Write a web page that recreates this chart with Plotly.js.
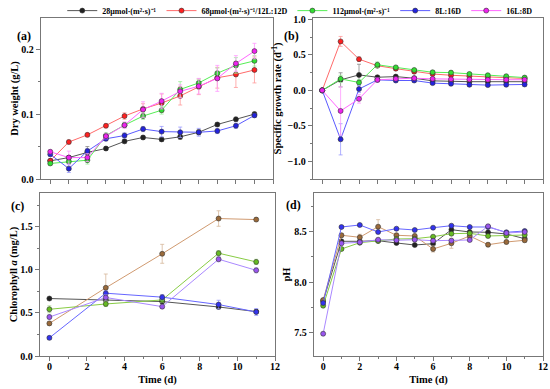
<!DOCTYPE html>
<html><head><meta charset="utf-8">
<script src="https://cdn.plot.ly/plotly-3.0.1.min.js"></script>
<style>html,body{margin:0;padding:0;background:#fff}#chart{width:550px;height:389px}</style>
</head><body><div id="chart"></div>
<script>
const seriesNames = ["28μmol·(m²·s)⁻¹", "68μmol·(m²·s)⁻¹/12L:12D", "112μmol·(m²·s)⁻¹", "8L:16D", "16L:8D"];
const daysAll = [0,1,2,3,4,5,6,7,8,9,10,11];
const daysChl = [0,3,6,9,11];
const sgTickVals = [-1.0,-0.5,0.0,0.5,1.0];
const sgTickText = ["−1.0","−0.5","0.0","0.5","1.0"];

// (a) Dry weight (g/L)
const dwBlack = [0.028,0.033,0.041,0.047,0.058,0.064,0.061,0.065,0.072,0.084,0.092,0.100];
const dwRed   = [0.028,0.057,0.068,0.082,0.097,0.108,0.117,0.128,0.142,0.156,0.161,0.168];
const dwGreen = [0.024,0.027,0.029,0.067,0.083,0.097,0.106,0.138,0.148,0.163,0.175,0.182];
const dwBlue  = [0.038,0.016,0.043,0.062,0.067,0.077,0.073,0.072,0.072,0.074,0.082,0.098];
const dwPink  = [0.042,0.033,0.033,0.066,0.083,0.107,0.120,0.135,0.143,0.155,0.178,0.197];
const dwErrBlack = [0.002,0.003,0.009,0.003,0.003,0.003,0.003,0.004,0.004,0.003,0.003,0.003];
const dwErrRed   = [0.002,0.003,0.003,0.003,0.005,0.008,0.014,0.014,0.012,0.016,0.02,0.02];
const dwErrGreen = [0.002,0.003,0.006,0.004,0.004,0.005,0.006,0.012,0.006,0.008,0.012,0.008];
const dwErrBlue  = [0.003,0.006,0.004,0.003,0.004,0.004,0.008,0.008,0.006,0.004,0.004,0.003];
const dwErrPink  = [0.003,0.01,0.006,0.004,0.005,0.012,0.012,0.01,0.012,0.02,0.012,0.012];

// (b) Specific growth rate (d-1)
const sgBlack = [0,0.148,0.218,0.185,0.194,0.171,0.134,0.125,0.122,0.122,0.122,0.122];
const sgRed   = [0,0.690,0.440,0.347,0.306,0.264,0.231,0.213,0.199,0.185,0.176,0.167];
const sgGreen = [0,0.162,0.111,0.361,0.324,0.287,0.255,0.250,0.231,0.213,0.199,0.180];
const sgBlue  = [0,-0.690,0.019,0.148,0.139,0.139,0.102,0.093,0.079,0.074,0.079,0.083];
const sgPink  = [0,-0.290,-0.120,0.148,0.162,0.171,0.162,0.157,0.153,0.150,0.150,0.150];
const sgErrBlack = [0,0.1,0.15,0.02,0.02,0.02,0.02,0.02,0.02,0.02,0.02,0.02];
const sgErrRed   = [0,0.07,0.03,0.02,0.02,0.02,0.02,0.02,0.02,0.02,0.02,0.02];
const sgErrGreen = [0,0.05,0.04,0.04,0.02,0.02,0.02,0.02,0.02,0.02,0.02,0.02];
const sgErrBlue  = [0,0.22,0.05,0.03,0.02,0.02,0.02,0.02,0.02,0.02,0.02,0.02];
const sgErrPink  = [0,0.34,0.06,0.03,0.02,0.02,0.02,0.02,0.02,0.02,0.02,0.02];

// (c) Chlorophyll a (mg/L)
const chBlack = [0.668,0.650,0.633,0.570,0.516];
const chRed   = [0.379,0.793,1.188,1.598,1.586];
const chGreen = [0.543,0.605,0.652,1.195,1.094];
const chBlue  = [0.211,0.730,0.684,0.598,0.512];
const chPink  = [0.453,0.680,0.574,1.125,0.996];
const chErrBlack = [0.01,0.02,0.02,0.02,0.02];
const chErrRed   = [0.02,0.16,0.11,0.09,0.02];
const chErrGreen = [0.04,0.03,0.03,0.03,0.03];
const chErrBlue  = [0.02,0.03,0.03,0.05,0.04];
const chErrPink  = [0.03,0.03,0.02,0.03,0.03];

// (d) pH
const phBlack = [7.81,8.407,8.407,8.413,8.390,8.370,8.383,8.523,8.500,8.497,8.480,8.433];
const phRed   = [7.82,8.467,8.447,8.553,8.467,8.460,8.330,8.387,8.460,8.373,8.400,8.417];
const phGreen = [7.763,8.330,8.393,8.410,8.430,8.433,8.453,8.483,8.487,8.460,8.463,8.470];
const phBlue  = [7.79,8.550,8.570,8.500,8.533,8.520,8.543,8.563,8.550,8.550,8.497,8.510];
const phPink  = [7.483,8.387,8.397,8.423,8.417,8.423,8.413,8.413,8.420,8.557,8.490,8.500];
const phErrRed = [0.01,0.02,0.03,0.07,0.02,0.02,0.03,0.05,0.02,0.02,0.02,0.02];

const colTop = [
  {m:'#222222', l:'#555555', e:'#888888'},
  {m:'#ff2020', l:'#ff6a6a', e:'#ff9a9a'},
  {m:'#33dd33', l:'#55ee55', e:'#99ee99'},
  {m:'#2222dd', l:'#5a5aff', e:'#9a9aff'},
  {m:'#ee22ee', l:'#ff66ff', e:'#ff99ff'}
];
const colBot = [
  {m:'#222222', l:'#555555', e:'#999999'},
  {m:'#9a6a3a', l:'#d09a70', e:'#d6b89a'},
  {m:'#66bb22', l:'#88cc44', e:'#aadd88'},
  {m:'#3333ee', l:'#6666ff', e:'#9999ff'},
  {m:'#9955ee', l:'#aa88ff', e:'#ccbbff'}
];

function tr(x, y, err, i, cols, xa, ya, legend) {
  const c = cols[i];
  const t = {
    x: x, y: y, type: 'scatter', mode: 'lines+markers',
    name: seriesNames[i], xaxis: xa, yaxis: ya, showlegend: legend,
    line: {color: c.l, width: 1},
    marker: {symbol: 'circle', size: 5, color: c.m, line: {color: '#333', width: 0.6}}
  };
  if (err) t.error_y = {type: 'data', array: err, visible: true, color: c.e, thickness: 0.8, width: 2};
  return t;
}

const data = [];
const A = [[dwBlack,dwErrBlack],[dwRed,dwErrRed],[dwGreen,dwErrGreen],[dwBlue,dwErrBlue],[dwPink,dwErrPink]];
const B = [[sgBlack,sgErrBlack],[sgRed,sgErrRed],[sgGreen,sgErrGreen],[sgBlue,sgErrBlue],[sgPink,sgErrPink]];
const C = [[chBlack,chErrBlack],[chRed,chErrRed],[chGreen,chErrGreen],[chBlue,chErrBlue],[chPink,chErrPink]];
const D = [[phBlack,null],[phRed,phErrRed],[phGreen,null],[phBlue,null],[phPink,null]];
A.forEach((s,i)=>data.push(tr(daysAll, s[0], s[1], i, colTop, 'x', 'y', true)));
B.forEach((s,i)=>data.push(tr(daysAll, s[0], s[1], i, colTop, 'x2', 'y2', false)));
C.forEach((s,i)=>data.push(tr(daysChl, s[0], s[1], i, colBot, 'x3', 'y3', false)));
D.forEach((s,i)=>data.push(tr(daysAll, s[0], s[1], i, colBot, 'x4', 'y4', false)));

const serif = '"Liberation Serif", "Times New Roman", serif';
const fnt = {family: serif, size: 10, color: '#000'};
const tickFont = {family: serif, size: 10, color: '#000', weight: 'bold'};
const titleFont = {family: serif, size: 10.5, color: '#000', weight: 'bold'};
const panelFont = {family: serif, size: 12, color: '#000', weight: 'bold'};
function ax(extra) {
  return Object.assign({
    showline: true, mirror: true, linecolor: '#777', linewidth: 1.3,
    ticks: 'outside', ticklen: 4, tickcolor: '#777', tickwidth: 1,
    showgrid: false, zeroline: false, automargin: false, ticklabeloverflow: 'allow',
    tickfont: tickFont
  }, extra);
}

const layout = {
  width: 550, height: 389,
  margin: {l: 0, r: 0, t: 0, b: 0, autoexpand: false},
  paper_bgcolor: '#fff', plot_bgcolor: '#fff',
  font: fnt,
  showlegend: true,
  legend: {orientation: 'h', x: 0.545, xanchor: 'center', y: 1.01, yanchor: 'top',
    font: {family: serif, size: 8, color: '#000', weight: 'bold'},
    itemwidth: 30, tracegroupgap: 0, bgcolor: 'rgba(0,0,0,0)'},
  xaxis:  ax({domain: [0.0745, 0.4964], anchor: 'y',  range: [-0.5, 12], tick0: 0, dtick: 1, showticklabels: false}),
  yaxis:  ax({domain: [0.5398, 0.9537], anchor: 'x',  range: [0, 0.248], dtick: 0.1, tickformat: '.1f',
              minor: {ticks: 'outside', ticklen: 2, dtick: 0.05, tickcolor: '#777'},
              title: {text: 'Dry weight (g/L)', font: titleFont, standoff: 0}}),
  xaxis2: ax({domain: [0.5691, 0.9873], anchor: 'y2', range: [-0.5, 12], tick0: 0, dtick: 1, showticklabels: false}),
  yaxis2: ax({domain: [0.5398, 0.9537], anchor: 'x2', range: [-1.25, 1.02], tickmode: 'array',
              tickvals: sgTickVals, ticktext: sgTickText,
              minor: {ticks: 'outside', ticklen: 2, dtick: 0.25, tickcolor: '#777'},
              title: {text: 'Specific growth rate (d<sup>-1</sup>)', font: titleFont, standoff: 3}}),
  xaxis3: ax({domain: [0.0727, 0.5], anchor: 'y3', range: [-0.5, 12], tick0: 0, dtick: 2, ticklabelstandoff: -3,
              minor: {ticks: 'outside', ticklen: 2, dtick: 1, tickcolor: '#777'},
              title: {text: 'Time (d)', font: titleFont, standoff: 4}}),
  yaxis3: ax({domain: [0.0848, 0.5039], anchor: 'x3', range: [0, 1.895], dtick: 0.5, tickformat: '.1f',
              minor: {ticks: 'outside', ticklen: 2, dtick: 0.25, tickcolor: '#777'},
              title: {text: 'Chlorophyll <i>a</i> (mg/L)', font: titleFont, standoff: 0}}),
  xaxis4: ax({domain: [0.5709, 0.9873], anchor: 'y4', range: [-0.5, 12], tick0: 0, dtick: 2, ticklabelstandoff: -3,
              minor: {ticks: 'outside', ticklen: 2, dtick: 1, tickcolor: '#777'},
              title: {text: 'Time (d)', font: titleFont, standoff: 4}}),
  yaxis4: ax({domain: [0.0848, 0.5039], anchor: 'x4', range: [7.26, 8.89], dtick: 0.5, tickformat: '.1f',
              minor: {ticks: 'outside', ticklen: 2, dtick: 0.25, tickcolor: '#777'},
              title: {text: 'pH', font: titleFont, standoff: 1}}),
  annotations: [
    {text: '(a)', xref: 'paper', yref: 'paper', x: 15/550, y: 1 - 27/389, showarrow: false, font: panelFont},
    {text: '(b)', xref: 'paper', yref: 'paper', x: 291/550, y: 1 - 27/389, showarrow: false, font: panelFont},
    {text: '(c)', xref: 'paper', yref: 'paper', x: 9/550, y: 1 - 206/389, showarrow: false, font: panelFont},
    {text: '(d)', xref: 'paper', yref: 'paper', x: 293/550, y: 1 - 205/389, showarrow: false, font: panelFont}
  ]
};

Plotly.newPlot('chart', data, layout, {displayModeBar: false, staticPlot: true});
</script></body></html>
